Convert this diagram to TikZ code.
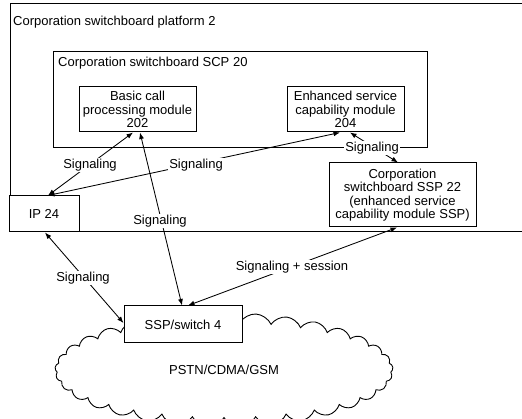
\documentclass[tikz,border=0pt]{standalone}
\usepackage{fontspec}
\setmainfont{Liberation Sans}
\usetikzlibrary{arrows.meta,shapes.symbols}
\begin{document}
\begin{tikzpicture}[x=1pt,y=-1pt,
  every node/.style={font=\fontsize{13}{13.3}\selectfont},
  box/.style={draw, line width=1pt, fill=white, inner sep=0pt, align=center},
  sig/.style={{Latex[length=6.5pt,width=5pt]}-{Latex[length=6.5pt,width=5pt]}, line width=0.85pt},
  lab/.style={fill=white, inner sep=1pt}]
\useasboundingbox (0,0) rectangle (522,419);
\clip (0,0) rectangle (522,419);
% cloud
\node[cloud, draw, line width=0.9pt, cloud puffs=33, cloud puff arc=125, aspect=3,
  minimum width=338pt, minimum height=114pt, inner sep=0pt] (net) at (224,370) {PSTN/CDMA/GSM};
% platform
\draw[line width=1pt] (522,4) -- (10,4) -- (10,232) -- (522,232);
\node[anchor=west, inner sep=0pt] (plat) at (13,22) {Corporation switchboard platform 2};
\node[draw, line width=1pt, minimum width=374pt, minimum height=96pt, inner sep=0pt] (scp) at (240,100) {};
\node[anchor=west, inner sep=0pt] (scplab) at (58,63) {Corporation switchboard SCP 20};
\node[box, minimum width=117pt, minimum height=45pt] (bcp) at (137.5,109.5) {Basic call\\processing module\\202};
\node[box, minimum width=117pt, minimum height=45pt] (esc) at (345.5,109.5) {Enhanced service\\capability module\\204};
\node[box, minimum width=147pt, minimum height=64pt] (ssp) at (402.5,195) {Corporation\\switchboard SSP 22\\(enhanced service\\capability module SSP)};
\node[box, minimum width=70pt, minimum height=36pt] (ip) at (44,214) {IP 24};
\node[box, minimum width=118pt, minimum height=37pt] (sw) at (183,324.5) {SSP/switch 4};
% connectors
\draw[sig] ([xshift=4pt]ip.north) -- ([xshift=-4.5pt]bcp.south);
\draw[sig] ([xshift=4pt]ip.north) -- ([xshift=-5.5pt]esc.south);
\draw[sig] ([xshift=4.5pt]esc.south) -- ([xshift=-4.5pt]ssp.north);
\draw[sig] ([xshift=2.5pt]bcp.south) -- ([xshift=-1pt]sw.north);
\draw[sig] ([xshift=1pt]ip.south) -- ([yshift=1.5pt]sw.west);
\draw[sig] ([xshift=-5.5pt]ssp.south) -- ([xshift=5pt]sw.north);
% labels
\node[lab] (l1) at (90,165) {Signaling};
\node[lab] (l2) at (196,165) {Signaling};
\node[lab] (l3) at (372,148) {Signaling};
\node[lab] (l4) at (160,221) {Signaling};
\node[lab] (l5) at (83,278) {Signaling};
\node[lab] (l6) at (292,267) {Signaling + session};
\end{tikzpicture}
\end{document}
